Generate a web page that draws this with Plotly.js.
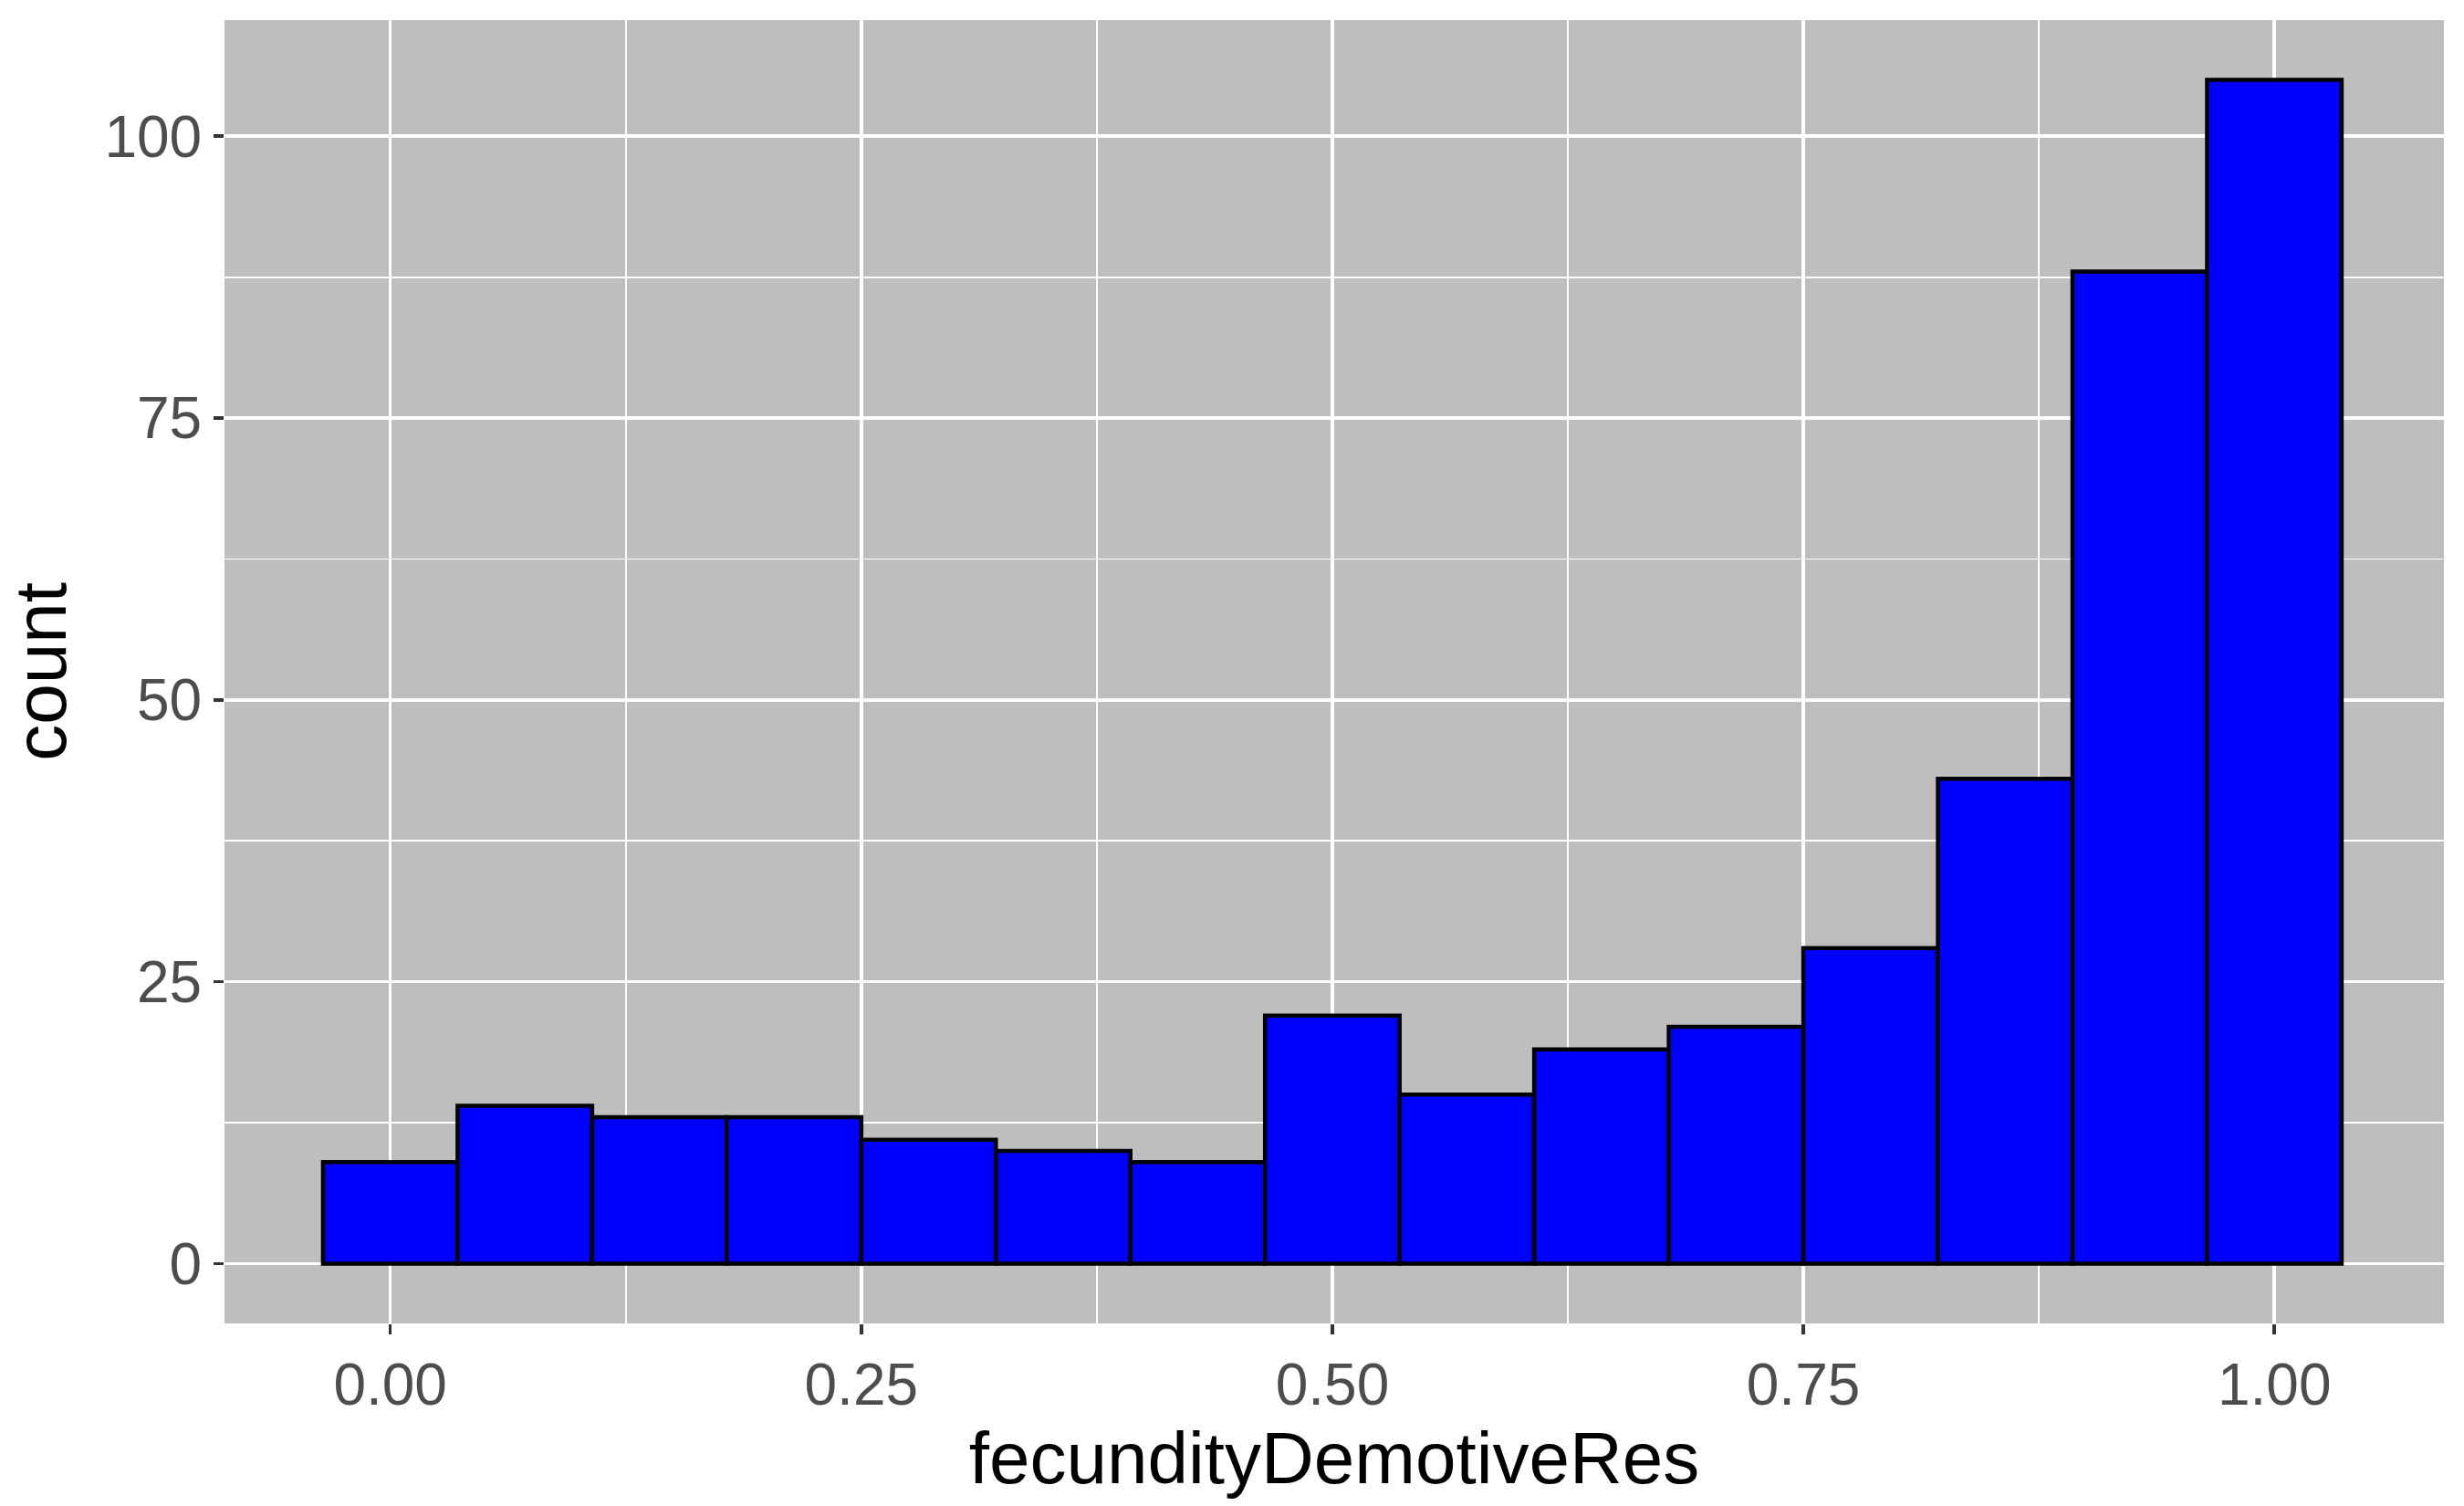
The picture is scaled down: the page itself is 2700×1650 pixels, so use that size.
<!DOCTYPE html>
<html><head><meta charset="utf-8">
<script src="https://cdn.plot.ly/plotly-3.0.1.min.js"></script>
<style>body{margin:0}</style></head><body>
<div id="c" style="width:2700px;height:1650px"></div>
<script>
const binCenters = [0,1/14,2/14,3/14,4/14,5/14,6/14,7/14,8/14,9/14,10/14,11/14,12/14,13/14,1];
const counts = [9,14,13,13,11,10,9,22,15,19,21,28,43,88,105];
const xTicks = [0,0.25,0.5,0.75,1];
const xTickText = ["0.00","0.25","0.50","0.75","1.00"];
const yTicks = [0,25,50,75,100];
Plotly.newPlot('c',[{
  type:'bar', x:binCenters, y:counts, width:1/14,
  marker:{color:'#0000ff', line:{color:'#000', width:4.5}}
}],{
  width:2700,height:1650,
  margin:{l:246,r:22,t:22,b:200},
  paper_bgcolor:'#fff', plot_bgcolor:'#bebebe',
  font:{family:'Liberation Sans, Arial, sans-serif'},
  xaxis:{range:[-0.088,1.09], tickvals:xTicks, ticktext:xTickText,
    gridcolor:'#fff', gridwidth:3.5, zeroline:false,
    minor:{tickvals:[0.125,0.375,0.625,0.875], gridcolor:'#fff', gridwidth:1.8, ticks:''},
    ticks:'outside', ticklen:11, tickwidth:3.5, tickcolor:'#333',
    tickfont:{size:64,color:'#4d4d4d'},
    title:{text:'fecundityDemotiveRes', font:{size:80,color:'#000'}, standoff:10}},
  yaxis:{range:[-5.3,110.3], tickvals:yTicks,
    gridcolor:'#fff', gridwidth:3.5, zeroline:false,
    minor:{tickvals:[12.5,37.5,62.5,87.5], gridcolor:'#fff', gridwidth:1.8, ticks:''},
    ticks:'outside', ticklen:11, tickwidth:3.5, tickcolor:'#333',
    tickfont:{size:64,color:'#4d4d4d'},
    title:{text:'count', font:{size:80,color:'#000'}, standoff:20}},
  showlegend:false, bargap:0
},{staticPlot:true});
</script></body></html>
